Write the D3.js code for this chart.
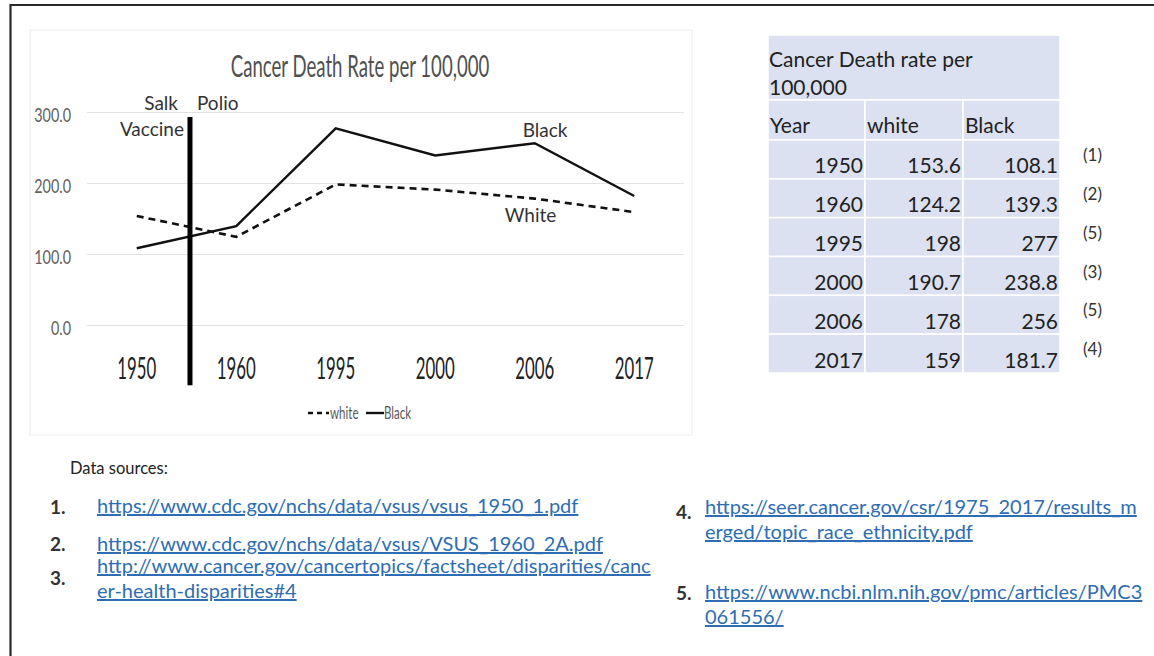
<!DOCTYPE html>
<html>
<head>
<meta charset="utf-8">
<script src="https://cdn.jsdelivr.net/npm/d3@7"></script>
<style>
  html, body { margin: 0; padding: 0; background: #fff; }
  svg { display: block; }
  text { font-family: Lato, "Open Sans", sans-serif; }
</style>
</head>
<body>
<div id="chart"></div>
<script>
// data
const years = ["1950", "1960", "1995", "2000", "2006", "2017"];
const whiteRate = [153.6, 124.2, 198, 190.7, 178, 159];
const blackRate = [108.1, 139.3, 277, 238.8, 256, 181.7];
const yTicks = [0, 100, 200, 300];
const notes = ["(1)", "(2)", "(5)", "(3)", "(5)", "(4)"];
const tableHead = ["Year", "white", "Black"];
const tableTitle = ["Cancer Death rate per", "100,000"];
const sourcesLeft = [
    { n: "1.", lines: ["https://www.cdc.gov/nchs/data/vsus/vsus_1950_1.pdf"] },
    { n: "2.", lines: ["https://www.cdc.gov/nchs/data/vsus/VSUS_1960_2A.pdf"] },
    { n: "3.", lines: ["http://www.cancer.gov/cancertopics/factsheet/disparities/canc", "er-health-disparities#4"] }
];
const sourcesRight = [
    { n: "4.", lines: ["https://seer.cancer.gov/csr/1975_2017/results_m", "erged/topic_race_ethnicity.pdf"] },
    { n: "5.", lines: ["https://www.ncbi.nlm.nih.gov/pmc/articles/PMC3", "061556/"] }
];

const W = 1154, H = 656;
const svg = d3.select("#chart").append("svg")
    .attr("width", W).attr("height", H);

// narrow text, like the condensed chart font
function narrow(g, x, y, str, size, sx, anchor, fill) {
    return g.append("text")
        .attr("transform", `translate(${x},${y}) scale(${sx},1)`)
        .attr("text-anchor", anchor)
        .attr("font-size", size)
        .attr("fill", fill)
        .text(str);
}

// FRAME
svg.append("path")
    .attr("d", `M10.5,${H} V5 H${W}`)
    .attr("fill", "none").attr("stroke", "#2a2a2a").attr("stroke-width", 2.2);

// CHART BOX
svg.append("rect")
    .attr("x", 30).attr("y", 30).attr("width", 662).attr("height", 405)
    .attr("fill", "#fff").attr("stroke", "#ececec");

const x = d3.scaleBand().domain(years).range([87, 684]);
const y = d3.scaleLinear().domain([0, 300]).range([325, 112]);
const cx = d => x(d) + x.bandwidth() / 2;

narrow(svg, 360, 77, "Cancer Death Rate per 100,000", 30, 0.62, "middle", "#505050");

// Y AXIS + GRID
const yAxis = svg.append("g")
    .attr("transform", `translate(${x.range()[0]},0)`)
    .call(d3.axisLeft(y).tickValues(yTicks).tickFormat(d3.format(".1f"))
        .tickSize(-(x.range()[1] - x.range()[0])).tickPadding(16));
yAxis.select(".domain").remove();
yAxis.selectAll(".tick line").attr("stroke", "#e2e2e2");
yAxis.selectAll(".tick text")
    .attr("x", 0).attr("dy", null).attr("y", 0)
    .attr("transform", "translate(-16,9) scale(0.72,1)")
    .attr("font-size", 20)
    .attr("font-family", "Lato").attr("fill", "#606060");

// X AXIS
const xAxis = svg.append("g")
    .attr("transform", `translate(0,${y(0)})`)
    .call(d3.axisBottom(x).tickSize(0));
xAxis.select(".domain").remove();
xAxis.selectAll(".tick text")
    .attr("y", 0).attr("dy", null)
    .attr("transform", "translate(0,54) scale(0.56,1)")
    .attr("font-size", 30)
    .attr("font-family", "Lato").attr("fill", "#222");

// LINES
const line = d3.line().x((d, i) => cx(years[i])).y(d => y(d));
svg.append("path").datum(whiteRate)
    .attr("d", line).attr("fill", "none")
    .attr("stroke", "#111").attr("stroke-width", 2.6)
    .attr("stroke-dasharray", "7,5");
svg.append("path").datum(blackRate)
    .attr("d", line).attr("fill", "none")
    .attr("stroke", "#111").attr("stroke-width", 2.4);

// SALK POLIO VACCINE MARKER
const vx = cx("1950") + x.step() * 0.535;
svg.append("line")
    .attr("x1", vx).attr("x2", vx)
    .attr("y1", y(293)).attr("y2", y(-85))
    .attr("stroke", "#000").attr("stroke-width", 5);

const lab = (tx, ty, str, anchor) => svg.append("text")
    .attr("x", tx).attr("y", ty).attr("text-anchor", anchor)
    .attr("font-size", 19).attr("fill", "#333").text(str);
lab(vx - 12, 110, "Salk", "end");
lab(vx + 7, 110, "Polio", "start");
lab(vx - 6, 136, "Vaccine", "end");
lab(cx("2006") - 12, 137, "Black", "start");
lab(cx("2006") - 30, 222, "White", "start");

// LEGEND
const lg = svg.append("g").attr("transform", "translate(0,413)");
lg.append("line").attr("x1", 308).attr("x2", 329)
    .attr("stroke", "#111").attr("stroke-width", 2.4).attr("stroke-dasharray", "5,4");
narrow(lg, 330, 6, "white", 17, 0.68, "start", "#595959");
lg.append("line").attr("x1", 366).attr("x2", 384)
    .attr("stroke", "#111").attr("stroke-width", 2.4);
narrow(lg, 384, 6, "Black", 17, 0.68, "start", "#595959");

// TABLE
const cols = [768, 865, 963, 1060];
const rows = d3.scaleBand().domain(years).range([140, 373]);
const cellFill = "#dbe1f0";
const tg = svg.append("g");
tg.append("rect").attr("x", cols[0]).attr("y", 35)
    .attr("width", cols[3] - cols[0]).attr("height", 65)
    .attr("fill", cellFill).attr("stroke", "#fff").attr("stroke-width", 1.5);
tableHead.forEach((h, j) => {
    tg.append("rect").attr("x", cols[j]).attr("y", 100)
        .attr("width", cols[j + 1] - cols[j]).attr("height", 40)
        .attr("fill", cellFill).attr("stroke", "#fff").attr("stroke-width", 1.5);
    tg.append("text").attr("x", cols[j] + 2).attr("y", 133)
        .attr("font-size", 21).attr("fill", "#222").text(h);
});
tableTitle.forEach((t, i) => {
    tg.append("text").attr("x", cols[0] + 1).attr("y", 67 + i * 28)
        .attr("font-size", 21).attr("fill", "#222").text(t);
});
years.forEach((yr, i) => {
    const vals = [yr, whiteRate[i], blackRate[i]];
    const top = rows(yr);
    vals.forEach((v, j) => {
        tg.append("rect").attr("x", cols[j]).attr("y", top)
            .attr("width", cols[j + 1] - cols[j]).attr("height", rows.bandwidth())
            .attr("fill", cellFill).attr("stroke", "#fff").attr("stroke-width", 1.5);
        tg.append("text").attr("x", cols[j + 1] - 2).attr("y", top + rows.bandwidth() * 0.86)
            .attr("text-anchor", "end").attr("font-size", 21).attr("fill", "#222")
            .text(v);
    });
    tg.append("text").attr("x", 1083).attr("y", top + 21)
        .attr("font-size", 17).attr("fill", "#333").text(notes[i]);
});

// DATA SOURCES
svg.append("text").attr("x", 70).attr("y", 474)
    .attr("font-size", 16.5).attr("fill", "#222").text("Data sources:");

function sourceList(list, nx, lx, tops, numOffsets) {
    list.forEach((s, i) => {
        svg.append("text").attr("x", nx).attr("y", tops[i] + numOffsets[i])
            .attr("font-size", 19).attr("font-weight", 700).attr("fill", "#333").text(s.n);
        s.lines.forEach((ln, k) => {
            svg.append("text").attr("x", lx).attr("y", tops[i] + k * 25)
                .attr("font-size", 20).attr("fill", "#2e6db4")
                .attr("text-decoration", "underline").text(ln);
        });
    });
}
sourceList(sourcesLeft, 50, 97, [513, 551, 573], [1, 0, 12]);
sourceList(sourcesRight, 676, 705, [514, 599], [5, 1]);
</script>
</body>
</html>
